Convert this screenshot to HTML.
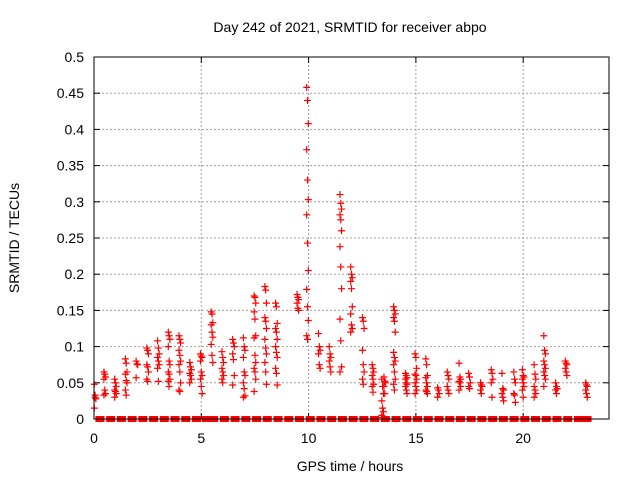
<!DOCTYPE html>
<html><head><meta charset="utf-8"><style>
html,body{margin:0;padding:0;background:#fff;}
svg{display:block;font-family:"Liberation Sans",sans-serif;}
</style></head><body>
<svg id="chart" width="640" height="480">
<text x="350" y="32" font-size="14" text-anchor="middle">Day 242 of 2021, SRMTID for receiver abpo</text>
<text x="350" y="471" font-size="14" text-anchor="middle">GPS time / hours</text>
<text x="19" y="238" font-size="14" text-anchor="middle" transform="rotate(-90 19 238)">SRMTID / TECUs</text>
<g id="grid"></g><g id="ticks"></g><g id="zeros"></g><g id="marks"></g>
<rect x="94" y="57" width="515" height="362" fill="none" stroke="#000" stroke-width="1"/>
</svg>
<script>
const xTicks=[0,5,10,15,20];
const yTicks=[0,0.05,0.1,0.15,0.2,0.25,0.3,0.35,0.4,0.45,0.5];
const yTickLabels=["0","0.05","0.1","0.15","0.2","0.25","0.3","0.35","0.4","0.45","0.5"];
const clusterTimes=[0.05,0.5,1.0,1.5,2.0,2.5,3.0,3.5,4.0,4.5,5.0,5.5,6.0,6.5,7.0,7.5,8.0,8.5,9.5,9.95,10.5,11.0,11.5,12.0,12.55,13.0,13.45,13.55,14.0,14.55,15.0,15.5,16.05,16.5,17.05,17.5,18.05,18.55,19.05,19.6,20.0,20.55,21.0,21.55,22.0,22.95];
const clusterValues=[
[0.048,0.03,0.028,0.015,0.033],
[0.065,0.062,0.058,0.055,0.04,0.035,0.033],
[0.055,0.05,0.045,0.04,0.038,0.035,0.03],
[0.083,0.077,0.065,0.062,0.053,0.05,0.04,0.033],
[0.08,0.076,0.075,0.057],
[0.098,0.095,0.09,0.075,0.072,0.065,0.055,0.052],
[0.108,0.098,0.09,0.085,0.08,0.075,0.07,0.052],
[0.12,0.115,0.11,0.1,0.08,0.075,0.065,0.062,0.055,0.052,0.045],
[0.115,0.11,0.105,0.095,0.088,0.08,0.075,0.065,0.05,0.04,0.038],
[0.078,0.072,0.068,0.063,0.06,0.055,0.05],
[0.09,0.087,0.085,0.08,0.065,0.06,0.055,0.045,0.035],
[0.148,0.145,0.133,0.13,0.12,0.113,0.103,0.088,0.078],
[0.093,0.085,0.078,0.07,0.065,0.06,0.055,0.05],
[0.11,0.105,0.1,0.09,0.082,0.06,0.047],
[0.112,0.1,0.095,0.085,0.065,0.06,0.05,0.042,0.032,0.03],
[0.17,0.168,0.16,0.148,0.138,0.115,0.112,0.088,0.078,0.07,0.065,0.055,0.038],
[0.183,0.178,0.16,0.14,0.135,0.125,0.11,0.098,0.09,0.078,0.065,0.048],
[0.16,0.155,0.132,0.125,0.12,0.11,0.1,0.092,0.085,0.07,0.063,0.047],
[0.172,0.168,0.165,0.16,0.153,0.15],
[0.458,0.44,0.408,0.372,0.33,0.303,0.282,0.243,0.205,0.179,0.155,0.136,0.115,0.11],
[0.118,0.1,0.095,0.09,0.075,0.07],
[0.1,0.09,0.085,0.08,0.072,0.065],
[0.31,0.298,0.29,0.282,0.275,0.26,0.238,0.21,0.18,0.138,0.108,0.072,0.065],
[0.21,0.2,0.195,0.19,0.18,0.155,0.145,0.13,0.125,0.12],
[0.14,0.135,0.125,0.095,0.075,0.065,0.055,0.048],
[0.075,0.07,0.065,0.06,0.055,0.048,0.045,0.037],
[0.055,0.045,0.035,0.025,0.015,0.01,0.005,0.002],
[0.058,0.052,0.05,0.045,0.035],
[0.155,0.15,0.145,0.14,0.135,0.12,0.092,0.085,0.08,0.075,0.065,0.055,0.048,0.04],
[0.063,0.06,0.057,0.055,0.05,0.048,0.045,0.04,0.035],
[0.09,0.085,0.07,0.062,0.06,0.055,0.05,0.045,0.04,0.035],
[0.083,0.075,0.06,0.057,0.05,0.045,0.04,0.038,0.035],
[0.043,0.04,0.035,0.03],
[0.065,0.06,0.055,0.045,0.04,0.035],
[0.077,0.058,0.055,0.052,0.05,0.045,0.04],
[0.063,0.058,0.05,0.045,0.042],
[0.05,0.047,0.045,0.04,0.035],
[0.068,0.063,0.055,0.05,0.03],
[0.063,0.042,0.04,0.035,0.03,0.025],
[0.065,0.055,0.05,0.035,0.033,0.023],
[0.068,0.06,0.058,0.055,0.05,0.045,0.04,0.03],
[0.075,0.062,0.055,0.045,0.04,0.035,0.03],
[0.115,0.095,0.09,0.08,0.075,0.07,0.065,0.06,0.055,0.045],
[0.05,0.045,0.042,0.04,0.035],
[0.08,0.077,0.075,0.07,0.065,0.06],
[0.05,0.047,0.045,0.04,0.035,0.03]];
const zeroTimes=[0.3,0.8,1.3,1.8,2.3,2.8,3.3,3.8,4.3,4.8,5.25,5.6,6.1,6.6,7.1,7.6,8.1,8.6,9.1,9.6,10.1,10.6,11.1,11.6,12.1,12.6,13.1,13.6,14.1,14.6,15.1,15.6,16.1,16.6,17.1,17.6,18.1,18.6,19.1,19.6,20.1,20.6,21.1,21.6,22.1,22.6,23.0];
const NS="http://www.w3.org/2000/svg";
const L=94,R=609,T=57,B=419;
function xs(t){return L+(t/24)*(R-L);}
function ys(v){return B-(v/0.5)*(B-T);}
function mk(tag,attrs,parent){const e=document.createElementNS(NS,tag);for(const k in attrs)e.setAttribute(k,attrs[k]);parent.appendChild(e);return e;}
const grid=document.getElementById('grid'),ticks=document.getElementById('ticks'),zeros=document.getElementById('zeros'),marks=document.getElementById('marks');
xTicks.forEach(t=>{const x=xs(t);
 if(t>0){const g=mk('line',{x1:x,x2:x,y1:T,y2:B,stroke:'#a0a0a0','stroke-dasharray':'2,2'},grid);
 
 }
 mk('line',{x1:x,x2:x,y1:B,y2:B-6,stroke:'#000'},ticks);mk('line',{x1:x,x2:x,y1:T,y2:T+6,stroke:'#000'},ticks);
 const lb=mk('text',{x:x,y:B+24,'font-size':14,'text-anchor':'middle'},ticks);lb.textContent=t;
 
 });
yTicks.forEach((v,i)=>{const y=ys(v);
 if(i>0&&i<yTicks.length-1){const g=mk('line',{x1:L,x2:R,y1:y,y2:y,stroke:'#a0a0a0','stroke-dasharray':'2,2'},grid);
 
 }
 mk('line',{x1:L,x2:L+6,y1:y,y2:y,stroke:'#000'},ticks);mk('line',{x1:R,x2:R-6,y1:y,y2:y,stroke:'#000'},ticks);
 const lb=mk('text',{x:L-10,y:y+5,'font-size':14,'text-anchor':'end'},ticks);lb.textContent=yTickLabels[i];
 
 });
zeroTimes.forEach(t=>{const r=mk('rect',{x:xs(t)-5,y:ys(0)-3,width:9,height:6,fill:'#f00'},zeros);
 
 });
clusterTimes.forEach((t,ci)=>{clusterValues[ci].forEach((v,j)=>{const x=xs(t)+((j%3)-1)*0.8,y=ys(v);
 const p=mk('path',{d:`M${x-3.5},${y}H${x+3.5}M${x},${y-3.5}V${y+3.5}`,stroke:'#f00','stroke-width':1.2,fill:'none'},marks);
 
 });});
</script>
</body></html>
